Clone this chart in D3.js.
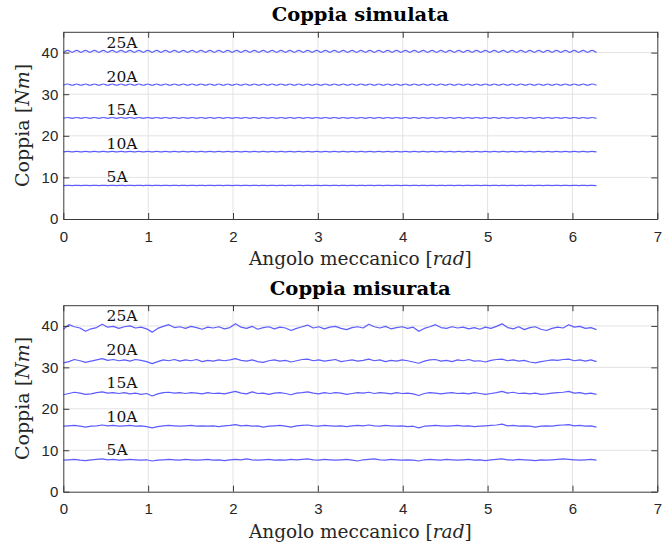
<!DOCTYPE html>
<html><head><meta charset="utf-8">
<script src="https://cdn.jsdelivr.net/npm/d3@7"></script>
<style>body{margin:0;background:#fff} svg{display:block}</style>
</head><body><svg id="c" width="662" height="549"></svg>
<script>
// ---------- data ----------
const currents = ["5A","10A","15A","20A","25A"];
const xTicks = [0,1,2,3,4,5,6,7];
const yTicks = [0,10,20,30,40];
const xDomain = [0,7];
const yDomain = [0,45];
const labelAngle = [0.51,0.51,0.51,0.51,0.51];
const labelTorque = [8.9,16.9,25.0,33.0,41.1];
const titles = ["Coppia simulata","Coppia misurata"];

// simulated torque, sampled at successive ripple peaks/troughs (120 half-periods over 2π)
const sim5 = [
8.03,8.09,8.03,8.09,8.03,8.09,8.03,8.09,8.03,8.09,
8.03,8.09,8.03,8.09,8.03,8.09,8.03,8.09,8.03,8.09,
8.03,8.09,8.03,8.09,8.03,8.09,8.03,8.09,8.03,8.09,
8.03,8.09,8.03,8.09,8.03,8.09,8.03,8.09,8.03,8.09,
8.03,8.09,8.03,8.09,8.03,8.09,8.03,8.09,8.03,8.09,
8.03,8.09,8.03,8.09,8.03,8.09,8.03,8.09,8.03,8.09,
8.03,8.09,8.03,8.09,8.03,8.09,8.03,8.09,8.03,8.09,
8.03,8.09,8.03,8.09,8.03,8.09,8.03,8.09,8.03,8.09,
8.03,8.09,8.03,8.09,8.03,8.09,8.03,8.09,8.03,8.09,
8.03,8.09,8.03,8.09,8.03,8.09,8.03,8.09,8.03,8.09,
8.03,8.09,8.03,8.09,8.03,8.09,8.03,8.09,8.03,8.09,
8.03,8.09,8.03,8.09,8.03,8.09,8.03,8.09,8.03,8.09,
8.03];
const sim10 = [
16.14,16.28,16.14,16.28,16.14,16.28,16.14,16.28,16.14,16.28,
16.14,16.28,16.14,16.28,16.14,16.28,16.14,16.28,16.14,16.28,
16.14,16.28,16.14,16.28,16.14,16.28,16.14,16.28,16.14,16.28,
16.14,16.28,16.14,16.28,16.14,16.28,16.14,16.28,16.14,16.28,
16.14,16.28,16.14,16.28,16.14,16.28,16.14,16.28,16.14,16.28,
16.14,16.28,16.14,16.28,16.14,16.28,16.14,16.28,16.14,16.28,
16.14,16.28,16.14,16.28,16.14,16.28,16.14,16.28,16.14,16.28,
16.14,16.28,16.14,16.28,16.14,16.28,16.14,16.28,16.14,16.28,
16.14,16.28,16.14,16.28,16.14,16.28,16.14,16.28,16.14,16.28,
16.14,16.28,16.14,16.28,16.14,16.28,16.14,16.28,16.14,16.28,
16.14,16.28,16.14,16.28,16.14,16.28,16.14,16.28,16.14,16.28,
16.14,16.28,16.14,16.28,16.14,16.28,16.14,16.28,16.14,16.28,
16.14];
const sim15 = [
24.20,24.40,24.20,24.40,24.20,24.40,24.20,24.40,24.20,24.40,
24.20,24.40,24.20,24.40,24.20,24.40,24.20,24.40,24.20,24.40,
24.20,24.40,24.20,24.40,24.20,24.40,24.20,24.40,24.20,24.40,
24.20,24.40,24.20,24.40,24.20,24.40,24.20,24.40,24.20,24.40,
24.20,24.40,24.20,24.40,24.20,24.40,24.20,24.40,24.20,24.40,
24.20,24.40,24.20,24.40,24.20,24.40,24.20,24.40,24.20,24.40,
24.20,24.40,24.20,24.40,24.20,24.40,24.20,24.40,24.20,24.40,
24.20,24.40,24.20,24.40,24.20,24.40,24.20,24.40,24.20,24.40,
24.20,24.40,24.20,24.40,24.20,24.40,24.20,24.40,24.20,24.40,
24.20,24.40,24.20,24.40,24.20,24.40,24.20,24.40,24.20,24.40,
24.20,24.40,24.20,24.40,24.20,24.40,24.20,24.40,24.20,24.40,
24.20,24.40,24.20,24.40,24.20,24.40,24.20,24.40,24.20,24.40,
24.20];
const sim20 = [
32.15,32.45,32.15,32.45,32.15,32.45,32.15,32.45,32.15,32.45,
32.15,32.45,32.15,32.45,32.15,32.45,32.15,32.45,32.15,32.45,
32.15,32.45,32.15,32.45,32.15,32.45,32.15,32.45,32.15,32.45,
32.15,32.45,32.15,32.45,32.15,32.45,32.15,32.45,32.15,32.45,
32.15,32.45,32.15,32.45,32.15,32.45,32.15,32.45,32.15,32.45,
32.15,32.45,32.15,32.45,32.15,32.45,32.15,32.45,32.15,32.45,
32.15,32.45,32.15,32.45,32.15,32.45,32.15,32.45,32.15,32.45,
32.15,32.45,32.15,32.45,32.15,32.45,32.15,32.45,32.15,32.45,
32.15,32.45,32.15,32.45,32.15,32.45,32.15,32.45,32.15,32.45,
32.15,32.45,32.15,32.45,32.15,32.45,32.15,32.45,32.15,32.45,
32.15,32.45,32.15,32.45,32.15,32.45,32.15,32.45,32.15,32.45,
32.15,32.45,32.15,32.45,32.15,32.45,32.15,32.45,32.15,32.45,
32.15];
const sim25 = [
40.05,40.55,40.05,40.55,40.05,40.55,40.05,40.55,40.05,40.55,
40.05,40.55,40.05,40.55,40.05,40.55,40.05,40.55,40.05,40.55,
40.05,40.55,40.05,40.55,40.05,40.55,40.05,40.55,40.05,40.55,
40.05,40.55,40.05,40.55,40.05,40.55,40.05,40.55,40.05,40.55,
40.05,40.55,40.05,40.55,40.05,40.55,40.05,40.55,40.05,40.55,
40.05,40.55,40.05,40.55,40.05,40.55,40.05,40.55,40.05,40.55,
40.05,40.55,40.05,40.55,40.05,40.55,40.05,40.55,40.05,40.55,
40.05,40.55,40.05,40.55,40.05,40.55,40.05,40.55,40.05,40.55,
40.05,40.55,40.05,40.55,40.05,40.55,40.05,40.55,40.05,40.55,
40.05,40.55,40.05,40.55,40.05,40.55,40.05,40.55,40.05,40.55,
40.05,40.55,40.05,40.55,40.05,40.55,40.05,40.55,40.05,40.55,
40.05,40.55,40.05,40.55,40.05,40.55,40.05,40.55,40.05,40.55,
40.05];

// measured torque, 97 samples over 0..2π
const mis5 = [7.6,7.7,7.8,7.6,7.5,7.7,7.8,7.9,7.7,7.8,7.6,7.7,7.8,7.7,7.6,7.7,7.4,7.6,7.7,7.8,
7.7,7.6,7.8,7.7,7.6,7.7,7.8,7.6,7.7,7.5,7.7,7.8,7.7,7.9,7.7,7.6,7.7,7.8,7.6,7.7,
7.6,7.8,7.7,7.8,7.9,7.7,7.6,7.8,7.7,7.6,7.7,7.8,7.6,7.4,7.7,7.8,7.9,7.7,7.6,7.8,
7.7,7.6,7.7,7.6,7.4,7.7,7.8,7.7,7.6,7.8,7.7,7.6,7.7,7.8,7.6,7.7,7.5,7.7,7.8,7.9,
7.7,7.6,7.8,7.7,7.6,7.5,7.7,7.6,7.7,7.8,7.9,7.8,7.7,7.6,7.7,7.8,7.6];
const mis10 = [15.8,15.9,16.0,15.8,15.6,15.8,15.9,16.1,15.9,16.0,15.8,15.9,16.0,15.8,15.9,15.7,15.4,15.7,15.9,16.0,
15.9,15.8,15.9,16.0,15.8,15.9,15.8,15.9,15.7,15.9,16.0,16.2,15.9,16.0,15.8,15.9,15.6,15.8,15.9,16.0,
15.8,15.6,15.9,16.0,16.1,15.9,15.8,16.0,15.9,15.8,15.9,15.7,15.9,16.0,15.9,16.1,15.9,15.8,16.0,15.9,
15.8,15.9,15.7,15.8,15.4,15.8,15.9,16.0,15.9,15.8,15.9,16.0,15.8,15.9,15.7,15.8,15.9,16.0,16.1,16.3,
15.9,16.0,15.8,15.9,15.8,15.6,15.8,15.9,15.8,16.0,16.1,16.2,15.9,16.0,15.8,15.9,15.6];
const mis15 = [23.4,23.7,24.0,23.8,23.5,23.6,23.9,24.1,23.8,23.9,23.7,23.9,23.6,23.8,23.5,23.7,23.1,23.6,23.9,24.0,
23.8,23.9,23.7,23.9,23.8,23.6,23.9,23.7,23.8,23.6,23.9,24.2,23.8,23.6,24.1,23.7,23.8,23.5,23.8,23.9,
23.7,23.4,23.8,23.9,24.1,23.8,23.6,23.9,23.7,23.9,23.8,23.5,23.7,23.9,23.8,24.0,23.7,23.9,23.8,23.6,
23.9,23.7,23.8,23.6,23.2,23.7,23.9,23.8,23.6,23.8,23.9,23.7,23.8,23.6,23.9,23.7,23.5,23.7,23.9,24.2,
23.8,24.0,23.7,23.8,23.6,23.8,23.5,23.6,23.8,23.9,24.0,24.2,23.8,23.9,23.6,23.8,23.5];
const mis20 = [31.1,31.4,31.9,31.6,31.2,31.5,31.8,32.1,31.7,31.9,31.6,31.8,31.5,31.9,31.7,31.4,30.9,31.4,31.8,31.6,
31.9,31.5,31.8,31.6,31.9,31.4,31.7,31.5,31.8,31.6,31.8,32.1,31.7,31.5,31.8,31.4,31.2,31.6,31.8,31.5,
31.7,31.3,31.6,31.9,32.0,31.6,31.8,31.5,31.7,31.9,31.4,31.6,31.8,31.5,31.7,32.0,31.6,31.8,31.4,31.7,
31.5,31.8,31.6,31.3,31.0,31.5,31.8,31.9,31.5,31.7,31.4,31.8,31.6,31.9,31.5,31.6,31.3,31.7,31.9,32.0,
31.6,31.8,31.5,31.7,31.3,31.1,31.4,31.6,31.8,31.7,31.9,32.0,31.6,31.8,31.5,31.8,31.4];
const mis25 = [39.2,40.3,39.8,39.5,38.7,39.3,39.6,40.4,39.7,39.9,39.4,39.8,40.0,39.5,39.7,39.3,38.5,39.4,39.9,40.3,
39.6,39.8,39.4,39.9,39.6,39.2,39.7,39.5,39.8,39.3,39.6,40.5,39.7,39.4,39.9,39.2,39.6,39.8,39.3,39.7,
39.5,38.9,39.4,39.8,40.2,39.5,39.8,39.3,39.7,39.9,39.4,39.1,39.6,39.8,39.5,40.4,39.8,39.5,39.9,39.3,
39.6,39.8,39.4,39.7,38.7,39.4,39.8,40.3,39.6,39.4,39.8,39.5,39.7,39.3,39.6,39.2,39.7,39.4,39.9,40.5,
39.6,39.3,39.8,39.1,39.6,39.8,39.2,38.9,39.4,39.7,39.5,40.3,39.7,39.9,39.4,39.6,39.1];

const simulated = [sim5, sim10, sim15, sim20, sim25];
const measured = [mis5, mis10, mis15, mis20, mis25];

// ---------- drawing ----------
const svg = d3.select("#c");
const TWO_PI = 2*Math.PI;
const serif = "'DejaVu Serif', serif";
const sans = "'Liberation Sans', Arial, sans-serif";
const lineColor = "#5c5cff";

const panels = [
  {title: titles[0], data: simulated, top: 31.8, bottom: 219, titleY: 20.5, titleW: 177, xlabY: 265, smooth: true},
  {title: titles[1], data: measured, top: 305.2, bottom: 491.7, titleY: 295, titleW: 181, xlabY: 538, smooth: false}
];
const left = 63.3, right = 657.3;

panels.forEach(p => {
  const x = d3.scaleLinear().domain(xDomain).range([left, right]);
  const y = d3.scaleLinear().domain(yDomain).range([p.bottom, p.top]);
  const g = svg.append("g");

  // grid
  g.append("g").selectAll("line").data(xTicks.filter(t => t > xDomain[0] && t < xDomain[1])).join("line")
    .attr("x1", d => x(d)).attr("x2", d => x(d)).attr("y1", p.top).attr("y2", p.bottom)
    .attr("stroke", "#e3e3e3").attr("stroke-width", 1);
  g.append("g").selectAll("line").data(yTicks.filter(t => t > yDomain[0] && t < yDomain[1])).join("line")
    .attr("y1", d => y(d)).attr("y2", d => y(d)).attr("x1", left).attr("x2", right)
    .attr("stroke", "#e3e3e3").attr("stroke-width", 1);

  // series
  p.data.forEach((vals, k) => {
    const n = vals.length - 1;
    const pts = vals.map((v, i) => [i * TWO_PI / n, v]);
    const line = d3.line().x(d => x(d[0])).y(d => y(d[1]))
      .curve(p.smooth ? d3.curveMonotoneX : d3.curveLinear);
    g.append("path").attr("d", line(pts)).attr("fill", "none")
      .attr("stroke", lineColor).attr("stroke-width", 1.2).attr("stroke-linejoin", "round");
  });

  // series labels
  g.append("g").selectAll("text").data(currents).join("text")
    .attr("x", (d, i) => x(labelAngle[i])).attr("y", (d, i) => y(labelTorque[i]))
    .attr("font-family", serif).attr("font-size", 15.5).attr("fill", "#111")
    .text(d => d);

  // axes
  const axB = d3.axisBottom(x).tickValues(xTicks).tickSizeInner(-6).tickSizeOuter(0).tickPadding(12).tickFormat(d3.format("d"));
  const axT = d3.axisTop(x).tickValues(xTicks).tickSizeInner(-6).tickSizeOuter(0).tickFormat("");
  const axL = d3.axisLeft(y).tickValues(yTicks).tickSizeInner(-6).tickSizeOuter(0).tickPadding(5).tickFormat(d3.format("d"));
  const axR = d3.axisRight(y).tickValues(yTicks).tickSizeInner(-6).tickSizeOuter(0).tickFormat("");
  const style = sel => {
    sel.selectAll("path").attr("stroke", "#3a3a3a");
    sel.selectAll("line").attr("stroke", "#3a3a3a");
    sel.selectAll("text").attr("fill", "#262626").attr("font-family", sans).attr("font-size", 15);
  };
  g.append("g").attr("transform", `translate(0,${p.bottom})`).call(axB).call(style);
  g.append("g").attr("transform", `translate(0,${p.top})`).call(axT).call(style);
  g.append("g").attr("transform", `translate(${left},0)`).call(axL).call(style);
  g.append("g").attr("transform", `translate(${right},0)`).call(axR).call(style);

  // title
  svg.append("text").attr("x", (left + right) / 2).attr("y", p.titleY)
    .attr("text-anchor", "middle").attr("font-family", serif).attr("font-weight", "bold")
    .attr("font-size", 19).attr("fill", "#000")
    .attr("textLength", p.titleW).attr("lengthAdjust", "spacingAndGlyphs")
    .text(p.title);

  // x label
  const xl = svg.append("text").attr("x", (left + right) / 2).attr("y", p.xlabY)
    .attr("text-anchor", "middle").attr("font-family", serif).attr("font-size", 18.5).attr("fill", "#262626");
  xl.append("tspan").text("Angolo meccanico [");
  xl.append("tspan").attr("font-style", "italic").text("rad");
  xl.append("tspan").text("]");

  // y label
  const cy = (p.top + p.bottom) / 2;
  const yl = svg.append("text").attr("transform", `translate(29,${cy}) rotate(-90)`)
    .attr("text-anchor", "middle").attr("font-family", serif).attr("font-size", 19).attr("fill", "#262626");
  yl.append("tspan").text("Coppia [");
  yl.append("tspan").attr("font-style", "italic").text("Nm");
  yl.append("tspan").text("]");
});
</script>
</body></html>
